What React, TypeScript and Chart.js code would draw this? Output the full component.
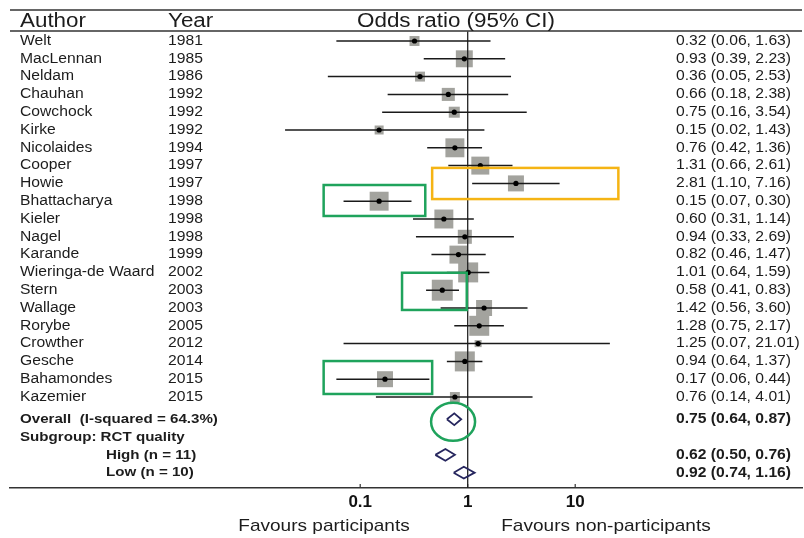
import React, { useEffect, useRef } from 'react';
import { Chart, registerables } from 'chart.js';

Chart.register(...registerables);

// ---------- data ----------
const authors = [
  'Welt', 'MacLennan', 'Neldam', 'Chauhan', 'Cowchock', 'Kirke', 'Nicolaides', 'Cooper', 'Howie',
  'Bhattacharya', 'Kieler', 'Nagel', 'Karande', 'Wieringa-de Waard', 'Stern', 'Wallage', 'Rorybe',
  'Crowther', 'Gesche', 'Bahamondes', 'Kazemier',
];
const years = [1981, 1985, 1986, 1992, 1992, 1992, 1994, 1997, 1997, 1998, 1998, 1998, 1999, 2002, 2003, 2003, 2005, 2012, 2014, 2015, 2015];
const oddsRatio = [0.32, 0.93, 0.36, 0.66, 0.75, 0.15, 0.76, 1.31, 2.81, 0.15, 0.60, 0.94, 0.82, 1.01, 0.58, 1.42, 1.28, 1.25, 0.94, 0.17, 0.76];
const ciLow = [0.06, 0.39, 0.05, 0.18, 0.16, 0.02, 0.42, 0.66, 1.10, 0.07, 0.31, 0.33, 0.46, 0.64, 0.41, 0.56, 0.75, 0.07, 0.64, 0.06, 0.14];
const ciHigh = [1.63, 2.23, 2.53, 2.38, 3.54, 1.43, 1.36, 2.61, 7.16, 0.30, 1.14, 2.69, 1.47, 1.59, 0.83, 3.60, 2.17, 21.01, 1.37, 0.44, 4.01];
const weights = [2.2, 6.4, 2.2, 3.8, 2.7, 1.8, 8.0, 7.2, 5.7, 8.0, 8.0, 4.4, 7.2, 8.9, 9.8, 5.7, 8.9, 1.1, 8.9, 5.7, 2.2];

const summaryLabels = ['Overall  (I-squared = 64.3%)', 'High (n = 11)', 'Low (n = 10)'];
const summaryOR = [0.75, 0.62, 0.92];
const summaryLow = [0.64, 0.50, 0.74];
const summaryHigh = [0.87, 0.76, 1.16];
const subgroupTitle = 'Subgroup: RCT quality';

const headers = ['Author', 'Year', 'Odds ratio (95% CI)'];
const xTicks = [0.1, 1, 10];
const favourLabels = ['Favours participants', 'Favours non-participants'];

// highlight annotations in data coordinates (odds ratio, row)
const orangeBoxes = [{ x0: 0.467, x1: 25.2, y0: 7.13, y1: 8.88 }];
const greenBoxes = [
  { x0: 0.0457, x1: 0.403, y0: 8.09, y1: 9.83 },
  { x0: 0.245, x1: 0.98, y0: 13.02, y1: 15.11 },
  { x0: 0.0457, x1: 0.467, y0: 17.98, y1: 19.83 },
];
const greenCircles = [{ x: 0.731, y: 21.39 }];

// ---------- layout ----------
const ROW_OVERALL = 21.25;
const ROW_SUBGROUP = 22.25;
const ROW_HIGH = 23.25;
const ROW_LOW = 24.25;
const summaryRows = [ROW_OVERALL, ROW_HIGH, ROW_LOW];
const ROW_HEADER = -1.1;
const ROW_RULE = -0.56;
const Y_MIN = -1.7416;
const Y_MAX = 25.112;
const X_MIN = Math.pow(10, -4.2577);
const X_MAX = Math.pow(10, 3.1097);

const FONT = '"Liberation Sans", Arial, Helvetica, sans-serif';
const SX = 1.12;
const TEXT = '#1c1c1c';

const fmt = (a: number, b: number, c: number) => `${a.toFixed(2)} (${b.toFixed(2)}, ${c.toFixed(2)})`;

function txt(ctx: CanvasRenderingContext2D, s: string, x: number, y: number, size: number, weight: string, align: CanvasTextAlign) {
  ctx.save();
  ctx.font = `${weight} ${size}px ${FONT}`;
  ctx.fillStyle = TEXT;
  ctx.textBaseline = 'middle';
  ctx.textAlign = align;
  ctx.translate(x, y);
  ctx.scale(SX, 1);
  ctx.fillText(s, 0, 0);
  ctx.restore();
}

const forestPlugin = {
  id: 'forestDecor',
  beforeDatasetsDraw(chart: any) {
    const { ctx, chartArea: ca, scales } = chart;
    const x = scales.x;
    const y = scales.y;
    ctx.save();
    ctx.strokeStyle = '#333';
    ctx.lineWidth = 1.5;
    [Y_MIN, ROW_RULE].forEach((r) => {
      const py = y.getPixelForValue(r);
      ctx.beginPath();
      ctx.moveTo(ca.left, py);
      ctx.lineTo(ca.right, py);
      ctx.stroke();
    });
    ctx.lineWidth = 1.2;
    x.ticks.forEach((t: any) => {
      const px = x.getPixelForValue(t.value);
      ctx.beginPath();
      ctx.moveTo(px, ca.bottom);
      ctx.lineTo(px, ca.bottom - 4);
      ctx.stroke();
    });
    ctx.restore();
  },
  afterDatasetsDraw(chart: any) {
    const { ctx, scales } = chart;
    const x = scales.x;
    const y = scales.y;
    ctx.save();
    ctx.lineWidth = 2.5;
    ctx.strokeStyle = '#f5b414';
    orangeBoxes.forEach((b) => {
      const l = x.getPixelForValue(b.x0), r = x.getPixelForValue(b.x1);
      const t = y.getPixelForValue(b.y0), bt = y.getPixelForValue(b.y1);
      ctx.strokeRect(l, t, r - l, bt - t);
    });
    ctx.strokeStyle = '#1fa35c';
    greenBoxes.forEach((b) => {
      const l = x.getPixelForValue(b.x0), r = x.getPixelForValue(b.x1);
      const t = y.getPixelForValue(b.y0), bt = y.getPixelForValue(b.y1);
      ctx.strokeRect(l, t, r - l, bt - t);
    });
    greenCircles.forEach((c) => {
      ctx.beginPath();
      ctx.ellipse(x.getPixelForValue(c.x), y.getPixelForValue(c.y), 22, 19, 0, 0, Math.PI * 2);
      ctx.stroke();
    });
    ctx.restore();
  },
  afterDraw(chart: any) {
    const { ctx, scales } = chart;
    const y = scales.y;
    const hy = y.getPixelForValue(ROW_HEADER);
    txt(ctx, headers[0], 20, hy, 20, 'normal', 'left');
    txt(ctx, headers[1], 168, hy, 20, 'normal', 'left');
    txt(ctx, headers[2], 456, hy, 20, 'normal', 'center');
    authors.forEach((a, i) => {
      const py = y.getPixelForValue(i);
      txt(ctx, a, 20, py, 14, 'normal', 'left');
      txt(ctx, String(years[i]), 168, py, 14, 'normal', 'left');
      txt(ctx, fmt(oddsRatio[i], ciLow[i], ciHigh[i]), 676, py, 14, 'normal', 'left');
    });
    summaryLabels.forEach((s, k) => {
      const py = y.getPixelForValue(summaryRows[k]);
      txt(ctx, s, k === 0 ? 20 : 106, py, 13.5, 'bold', 'left');
      txt(ctx, fmt(summaryOR[k], summaryLow[k], summaryHigh[k]), 676, py, 14, 'bold', 'left');
    });
    txt(ctx, subgroupTitle, 20, y.getPixelForValue(ROW_SUBGROUP), 13.5, 'bold', 'left');
    txt(ctx, favourLabels[0], 324, 526, 17, 'normal', 'center');
    txt(ctx, favourLabels[1], 606, 526, 17, 'normal', 'center');
  },
};

export default function App() {
  const ref = useRef<HTMLCanvasElement | null>(null);
  useEffect(() => {
    if (!ref.current) return;
    const pts = oddsRatio.map((v, i) => ({ x: v, y: i }));
    const ciSets = authors.map((_, i) => ({
      type: 'scatter' as const,
      showLine: true,
      data: [{ x: ciLow[i], y: i }, { x: ciHigh[i], y: i }],
      borderColor: '#1a1a1a',
      borderWidth: 1.5,
      pointRadius: 0,
      order: 2,
    }));
    const diamondSets = summaryOR.map((v, k) => {
      const r = summaryRows[k];
      const h = 0.33;
      return {
        type: 'scatter' as const,
        showLine: true,
        data: [
          { x: summaryLow[k], y: r },
          { x: v, y: r - h },
          { x: summaryHigh[k], y: r },
          { x: v, y: r + h },
          { x: summaryLow[k], y: r },
        ],
        borderColor: '#26265e',
        borderWidth: 1.8,
        borderJoinStyle: 'miter' as const,
        pointRadius: 0,
        fill: false,
        order: 1,
      };
    });
    const chart = new Chart(ref.current, {
      type: 'scatter',
      data: {
        datasets: [
          {
            type: 'scatter',
            data: pts,
            pointStyle: 'rect',
            pointRadius: weights.map((w) => (Math.sqrt(w) * 6.7) / Math.SQRT2),
            backgroundColor: '#a3a39e',
            borderWidth: 0,
            order: 4,
          },
          {
            type: 'scatter',
            showLine: true,
            data: [{ x: 1, y: ROW_RULE + 0.03 }, { x: 1, y: Y_MAX }],
            borderColor: '#222',
            borderWidth: 1.3,
            pointRadius: 0,
            order: 3,
          },
          ...ciSets,
          {
            type: 'scatter',
            data: pts,
            pointStyle: 'circle',
            pointRadius: 2.6,
            backgroundColor: '#000',
            borderWidth: 0,
            order: 0,
          },
          ...diamondSets,
        ] as any,
      },
      options: {
        animation: false,
        responsive: false,
        layout: { autoPadding: false, padding: { left: 10, right: 2, top: 10, bottom: 0 } },
        plugins: { legend: { display: false }, tooltip: { enabled: false } },
        scales: {
          x: {
            type: 'logarithmic',
            min: X_MIN,
            max: X_MAX,
            bounds: 'data',
            grid: { display: false, drawTicks: false },
            border: { display: true, color: '#333', width: 1.5 },
            ticks: {
              font: { family: FONT, size: 17, weight: 'bold' },
              color: '#111',
              padding: 4,
              autoSkip: false,
              maxRotation: 0,
              callback: (v: any) => String(v),
            },
            afterBuildTicks: (s: any) => {
              s.ticks = xTicks.map((v) => ({ value: v }));
            },
            afterFit: (s: any) => {
              s.height = 50;
            },
          },
          y: {
            type: 'linear',
            reverse: true,
            min: Y_MIN,
            max: Y_MAX,
            bounds: 'data',
            display: false,
          },
        },
      } as any,
      plugins: [forestPlugin],
    });
    return () => chart.destroy();
  }, []);
  return (
    <div style={{ position: 'fixed', left: 0, top: 0, width: 804, height: 538, background: '#fff' }}>
      <canvas ref={ref} width={804} height={538} style={{ display: 'block' }} />
    </div>
  );
}
